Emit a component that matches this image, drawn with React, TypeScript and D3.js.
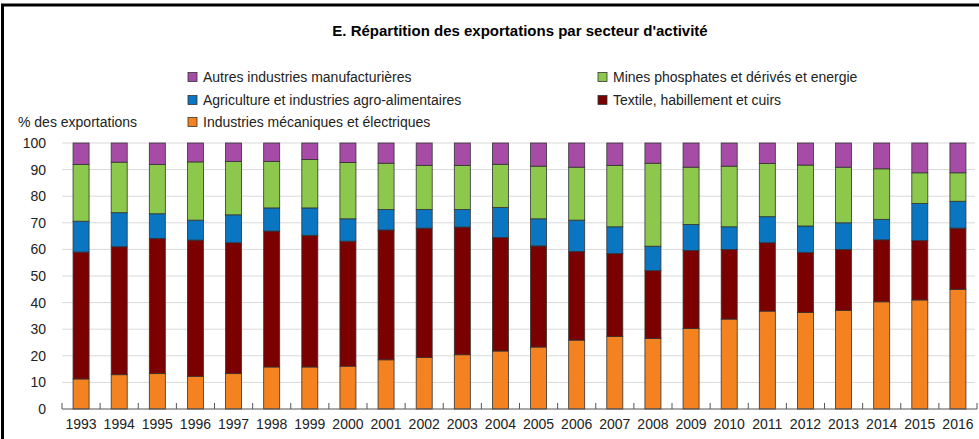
import React from "react";
import * as d3 from "d3";

const years = ["1993","1994","1995","1996","1997","1998","1999","2000","2001","2002","2003","2004","2005","2006","2007","2008","2009","2010","2011","2012","2013","2014","2015","2016"];

const mecaniques = [11.3,12.9,13.3,12.3,13.3,15.8,15.8,16.1,18.5,19.4,20.4,21.8,23.3,25.9,27.3,26.5,30.3,33.8,36.8,36.3,37.1,40.3,41.0,45.0];
const textile = [47.7,48.1,50.8,51.2,49.2,51.1,49.5,47.0,48.8,48.6,48.0,42.7,38.0,33.3,31.1,25.5,29.3,26.2,25.7,22.5,22.9,23.3,22.3,23.0];
const agriculture = [11.6,12.8,9.3,7.5,10.5,8.7,10.3,8.4,7.7,7.0,6.6,11.3,10.2,11.8,10.1,9.2,9.8,8.5,9.8,10.0,10.0,7.7,14.0,10.1];
const mines = [21.3,19.0,18.5,21.9,20.1,17.5,18.2,21.2,17.4,16.6,16.6,16.2,19.8,19.9,23.1,31.2,21.5,22.8,20.0,22.9,20.9,19.0,11.5,10.7];
const autres = [8.1,7.2,8.1,7.1,6.9,6.9,6.2,7.3,7.6,8.4,8.4,8.0,8.7,9.1,8.4,7.6,9.1,8.7,7.7,8.3,9.1,9.7,11.2,11.2];

const seriesNames = [
  "Industries mécaniques et électriques",
  "Textile, habillement et cuirs",
  "Agriculture et industries agro-alimentaires",
  "Mines phosphates et dérivés et energie",
  "Autres industries manufacturières",
];
const seriesValues = [mecaniques, textile, agriculture, mines, autres];
const seriesColors = ["#F58220", "#7B0000", "#0A76C2", "#8CC84B", "#A64CA6"];
const yTicks = [0,10,20,30,40,50,60,70,80,90,100];

const title = "E. Répartition des exportations par secteur d'activité";
const yLabel = "% des exportations";

const FONT = "'Liberation Sans', Arial, sans-serif";

// legend layout: [seriesIndex, column, row]
const legendLayout: [number, number, number][] = [
  [4, 0, 0],
  [2, 0, 1],
  [0, 0, 2],
  [3, 1, 0],
  [1, 1, 1],
];

export default function App() {
  const W = 979, H = 439;
  const x = d3.scaleBand<string>().domain(years).range([62, 977]).paddingInner(0.58).paddingOuter(0.29);
  const y = d3.scaleLinear().domain([0, 100]).range([409, 143]);
  const rows = years.map((yr, i) => {
    const r: any = { year: yr };
    seriesNames.forEach((n, k) => (r[n] = seriesValues[k][i]));
    return r;
  });
  const stacked = d3.stack<any>().keys(seriesNames)(rows);
  const step = x.step();
  const gap = (step - x.bandwidth()) / 2;
  const boundaries = years.map((yr) => (x(yr) as number) - gap);
  boundaries.push((x(years[years.length - 1]) as number) + x.bandwidth() + gap);

  const legendColX = [188, 598];
  const legendRowY = [77, 100, 122];

  return (
    <svg width={W} height={H} style={{ position: "absolute", left: 0, top: 0, background: "#fff" }} fontFamily={FONT}>
      <rect x={0} y={0} width={W} height={H} fill="#fff" />
      <line x1={2.5} y1={5} x2={2.5} y2={H} stroke="#000" strokeWidth={3} />
      <line x1={1} y1={5} x2={W} y2={5} stroke="#000" strokeWidth={3} />
      <text x={520} y={36} textAnchor="middle" fontSize={15} fontWeight="bold" fill="#000">{title}</text>

      {legendLayout.map(([k, c, r]) => (
        <g key={k}>
          <rect x={legendColX[c]} y={legendRowY[r] - 4.5} width={9} height={9} fill={seriesColors[k]} stroke="#333" strokeWidth={0.8} />
          <text x={legendColX[c] + 15} y={legendRowY[r] + 5} fontSize={14} fill="#222">{seriesNames[k]}</text>
        </g>
      ))}

      <text x={18} y={127} fontSize={14} fill="#222">{yLabel}</text>

      {yTicks.map((t) => (
        <g key={t}>
          {t > 0 && <line x1={62} x2={975} y1={y(t)} y2={y(t)} stroke="#d9d9d9" strokeWidth={1} />}
          <text x={46} y={y(t) + 5} textAnchor="end" fontSize={14} fill="#222">{t}</text>
        </g>
      ))}

      {stacked.map((s, k) => (
        <g key={k}>
          {s.map((d, i) => (
            <rect key={i} x={x(years[i])} width={x.bandwidth()} y={y(d[1])} height={y(d[0]) - y(d[1])}
              fill={seriesColors[k]} stroke="#333" strokeWidth={0.8} />
          ))}
        </g>
      ))}

      <line x1={62} x2={977} y1={y(0)} y2={y(0)} stroke="#555" strokeWidth={1.2} />
      {boundaries.map((bx, i) => (
        <line key={i} x1={bx} x2={bx} y1={y(0)} y2={y(0) - 6} stroke="#555" strokeWidth={1} />
      ))}
      {years.map((yr) => (
        <text key={yr} x={(x(yr) as number) + x.bandwidth() / 2} y={429} textAnchor="middle" fontSize={14} fill="#222">{yr}</text>
      ))}
    </svg>
  );
}
